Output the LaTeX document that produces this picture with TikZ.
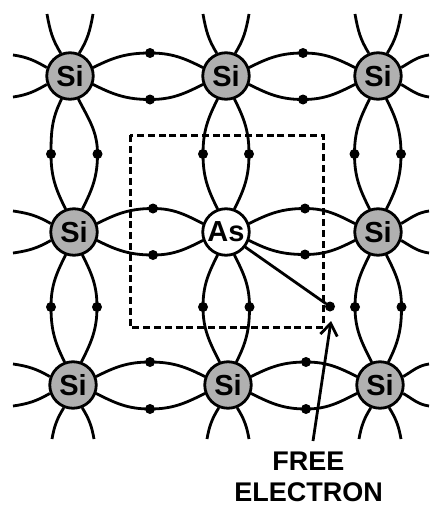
\documentclass[tikz,border=0pt]{standalone}
\usepackage{fontspec}
\setmainfont{Liberation Sans}
\usetikzlibrary{arrows.meta}
\tikzset{
  x=1pt,y=-1pt,
  atom/.style={circle,draw,line width=2.8pt,minimum size=46.5pt,inner sep=0pt,font=\fontsize{29}{29}\selectfont\bfseries},
  si/.style={atom,fill=black!31},
  as/.style={atom,fill=white},
  bond/.style={line width=2.8pt,line cap=round},
  stub/.style={line width=2.8pt,line cap=butt},
  dot/.style={circle,fill=black,minimum size=10pt,inner sep=0pt},
  frame/.style={line width=3pt,dash pattern=on 7pt off 3.8pt},
  pointer/.style={line width=2.8pt},
  caption/.style={align=center,inner sep=0pt,font=\fontsize{27}{31}\selectfont\bfseries}
}
\begin{document}
\begin{tikzpicture}
\useasboundingbox (0,0) rectangle (429,506);
\draw[frame] (130,135) rectangle (323,327);
% atoms
\node[si] (a11) at (70,76) {Si};
\node[si] (a12) at (226,76) {Si};
\node[si] (a13) at (378,76) {Si};
\node[si] (a21) at (74,232) {Si};
\node[as] (a22) at (226,232) {As};
\node[si] (a23) at (378,232) {Si};
\node[si] (a31) at (73,385) {Si};
\node[si] (a32) at (228,385) {Si};
\node[si] (a33) at (380,385) {Si};
% horizontal bonds: row / left / right / dot x / upper y / lower y
\foreach \r/\p/\q/\mx/\uy/\dy in {1/1/2/150/53/99.5, 1/2/3/303/53/99.5, 2/1/2/153/208.5/255, 2/2/3/305/208.5/254.5, 3/1/2/150/362/409, 3/2/3/306/362/409}{
  \node[dot] (u) at (\mx,\uy) {};
  \node[dot] (d) at (\mx,\dy) {};
  \draw[bond] (a\r\p.20) to[out=27,in=180] (u.center) to[out=0,in=153] (a\r\q.160);
  \draw[bond] (a\r\p.-20) to[out=-27,in=180] (d.center) to[out=0,in=-153] (a\r\q.-160);
}
% vertical bonds: column / upper / lower / left x / right x / dot y
\foreach \c/\p/\q/\lx/\rx/\my in {1/1/2/51/97.5/154, 2/1/2/203/249/154, 3/1/2/354.5/401/154, 1/2/3/51/97/307, 2/2/3/203/249.5/307, 3/2/3/355/401.5/307}{
  \node[dot] (l) at (\lx,\my) {};
  \node[dot] (r) at (\rx,\my) {};
  \draw[bond] (a\p\c.-110) to[out=-117,in=90] (l.center) to[out=-90,in=117] (a\q\c.110);
  \draw[bond] (a\p\c.-70) to[out=-63,in=90] (r.center) to[out=-90,in=63] (a\q\c.70);
}
% free ends
\foreach \c in {1,2,3}{
  \coordinate (tl) at ([xshift=-23pt]a1\c.north);
  \coordinate (tr) at ([xshift=23pt]a1\c.north);
  \coordinate (tl) at (tl |- 0,14);
  \coordinate (tr) at (tr |- 0,14);
  \draw[stub] (a1\c.112) to[out=122,in=-80] (tl);
  \draw[stub] (a1\c.68) to[out=58,in=-100] (tr);
  \coordinate (bl) at ([xshift=-21pt]a3\c.south);
  \coordinate (br) at ([xshift=21pt]a3\c.south);
  \coordinate (bl) at (bl |- 0,439);
  \coordinate (br) at (br |- 0,439);
  \draw[stub] (a3\c.-112) to[out=-122,in=80] (bl);
  \draw[stub] (a3\c.-68) to[out=-58,in=100] (br);
}
\foreach \r in {1,2,3}{
  \coordinate (lu) at ([yshift=21pt]a\r1.center);
  \coordinate (ld) at ([yshift=-21pt]a\r1.center);
  \coordinate (lu) at (13,0 |- lu);
  \coordinate (ld) at (13,0 |- ld);
  \draw[stub] (a\r1.160) to[out=150,in=-8] (lu);
  \draw[stub] (a\r1.-160) to[out=-150,in=8] (ld);
  \coordinate (ru) at ([yshift=21pt]a\r3.center);
  \coordinate (rd) at ([yshift=-21pt]a\r3.center);
  \coordinate (ru) at (429,0 |- ru);
  \coordinate (rd) at (429,0 |- rd);
  \draw[stub] (a\r3.20) to[out=30,in=188] (ru);
  \draw[stub] (a\r3.-20) to[out=-30,in=172] (rd);
}
% free electron
\node[dot] (e) at (330,306.5) {};
\draw[bond] (a22.-38) -- (e);
\coordinate (tail) at (313,441);
\coordinate (tip) at (331,321);
\draw[pointer,-{Straight Barb[length=12pt,width=17pt,line width=2.8pt]}] (tail) -- (tip);
\node[caption] (cap) at (308.5,477) {FREE\\ELECTRON};
\end{tikzpicture}
\end{document}
